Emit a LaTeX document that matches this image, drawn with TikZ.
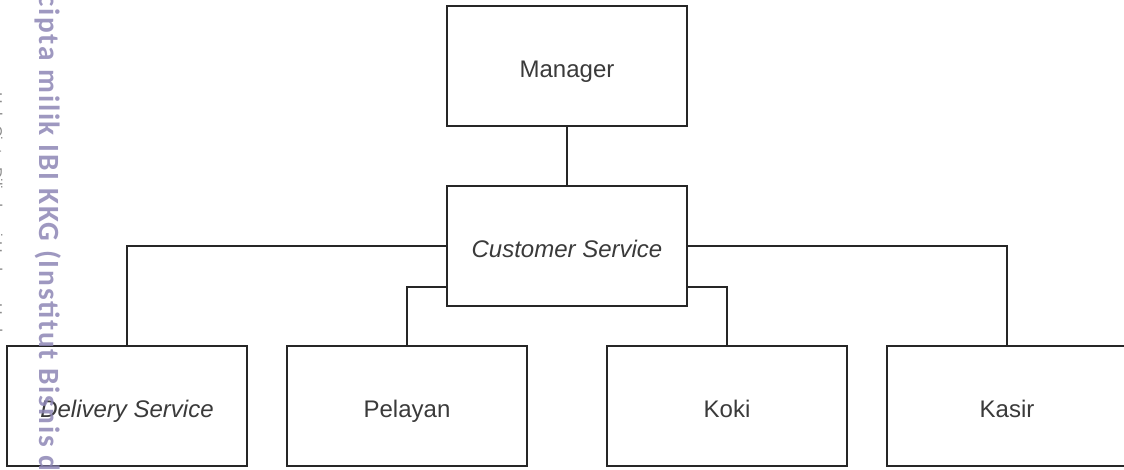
\documentclass[tikz,border=0pt]{standalone}
\usepackage{fontspec}
\setmainfont{Liberation Sans}
\newfontfamily\wmfont[LetterSpace=6]{Carlito}
\definecolor{wmpurple}{HTML}{8E87B6}
\definecolor{boxtext}{HTML}{3A3A3A}
\definecolor{boxline}{HTML}{262626}

\begin{document}
\begin{tikzpicture}[x=0.75pt,y=-0.75pt,
  thick,main node/.style={rectangle,draw=boxline,line width=1.3pt,minimum width=180pt,minimum height=90pt,inner sep=0pt,font=\fontsize{18}{20}\selectfont,text=boxtext,text height=21.7pt,text depth=4pt},
  ital/.style={font=\fontsize{18}{20}\selectfont\itshape},
  link/.style={draw=boxline,line width=1.3pt}]

  \useasboundingbox[fill=white] (0,0) rectangle (1124,470);

  \node[main node] (man) at (567,66) {Manager};
  \node[main node,ital] (cs) at (567,246) {Customer Service};
  \node[main node,ital] (del) at (127,406) {Delivery Service};
  \node[main node] (pel) at (407,406) {Pelayan};
  \node[main node] (kok) at (727,406) {Koki};
  \node[main node] (kas) at (1007,406) {Kasir};

  \path[link]
   (man) edge (cs);
  \draw[link] (cs.west) -| (del.north);
  \draw[link] (cs.east) -| (kas.north);
  \draw[link] ([yshift=15pt]cs.south west) -| (pel.north);
  \draw[link] ([yshift=15pt]cs.south east) -| (kok.north);

  % watermark along the left edge
  \node[rotate=-90,anchor=base west,inner sep=0pt,text=wmpurple,opacity=0.85,
    font=\wmfont\bfseries\fontsize{22}{23}\selectfont] (wm) at (39,-6) {cipta milik IBI KKG (Institut Bisnis d};
  \node[rotate=-90,anchor=base west,inner sep=0pt,text=black!45,
    font=\fontsize{12}{13}\selectfont] (hak) at (-9,92) {Hak Cipta Dilindungi Undang-Undang};
\end{tikzpicture}
\end{document}
